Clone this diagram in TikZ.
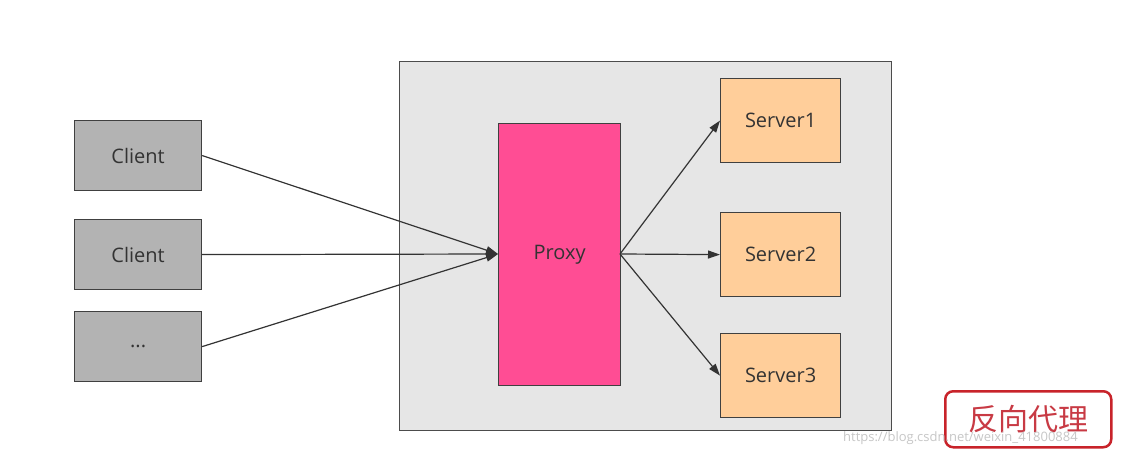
\documentclass[tikz,border=0pt]{standalone}
\usepackage{fontspec}
\setmainfont{Open Sans}
\newfontfamily\cjk{Noto Sans CJK SC}
\usetikzlibrary{arrows.meta}
\definecolor{txt}{HTML}{333333}
\definecolor{outerfill}{HTML}{E6E6E6}
\definecolor{clientfill}{HTML}{B3B3B3}
\definecolor{proxyfill}{HTML}{FF4D94}
\definecolor{serverfill}{HTML}{FFCE9A}
\definecolor{lblred}{HTML}{C8232A}
\definecolor{lbltxt}{HTML}{C83A44}
\tikzset{
  box/.style={draw=black!75, line width=1.2pt, inner sep=0pt, anchor=north west, text=txt, font=\fontsize{20}{24}\selectfont},
  clientbox/.style={box, fill=clientfill, minimum width=127pt, minimum height=70pt},
  serverbox/.style={box, fill=serverfill, minimum width=120pt, minimum height=84pt},
  conn/.style={draw=black!80, line width=1.2pt, -{Triangle[length=12pt,width=8pt]}},
}
\begin{document}
\begin{tikzpicture}[x=1pt,y=-1pt]
\useasboundingbox (0,0) rectangle (1125,457);
\fill[white] (0,0) rectangle (1125,457);
\node[box, fill=outerfill, draw=black!70, minimum width=492pt, minimum height=369pt] (outer) at (399,61) {};
\node[clientbox] (c1) at (74,120) {Client};
\node[clientbox] (c2) at (74,219) {Client};
\node[clientbox] (c3) at (74,311) {...};
\node[box, fill=proxyfill, minimum width=122pt, minimum height=262pt] (proxy) at (498,123) {Proxy};
\node[serverbox] (s1) at (720,78) {Server1};
\node[serverbox] (s2) at (720,212) {Server2};
\node[serverbox] (s3) at (720,333) {Server3};
\coordinate (pin) at (498,254);
\coordinate (pout) at (620,254);
\draw[conn] (c1.east) -- (pin);
\draw[conn] (c2.east) -- (pin);
\draw[conn] (c3.east) -- (pin);
\draw[conn] (pout) -- (s1.west);
\draw[conn] (pout) -- (s2.west);
\draw[conn] (pout) -- (s3.west);
\node[draw=lblred, line width=2.5pt, rounded corners=8pt, fill=white, minimum width=166pt, minimum height=56pt, anchor=north west, text=lbltxt, font=\cjk\fontsize{30}{34}\selectfont] (lbl) at (944,390) {反向代理};
\node[anchor=west, text=black!22, font=\fontsize{13}{15}\selectfont, inner sep=0pt] (wm) at (843,438) {https://blog.csdn.net/weixin\_41800884};
\end{tikzpicture}
\end{document}
